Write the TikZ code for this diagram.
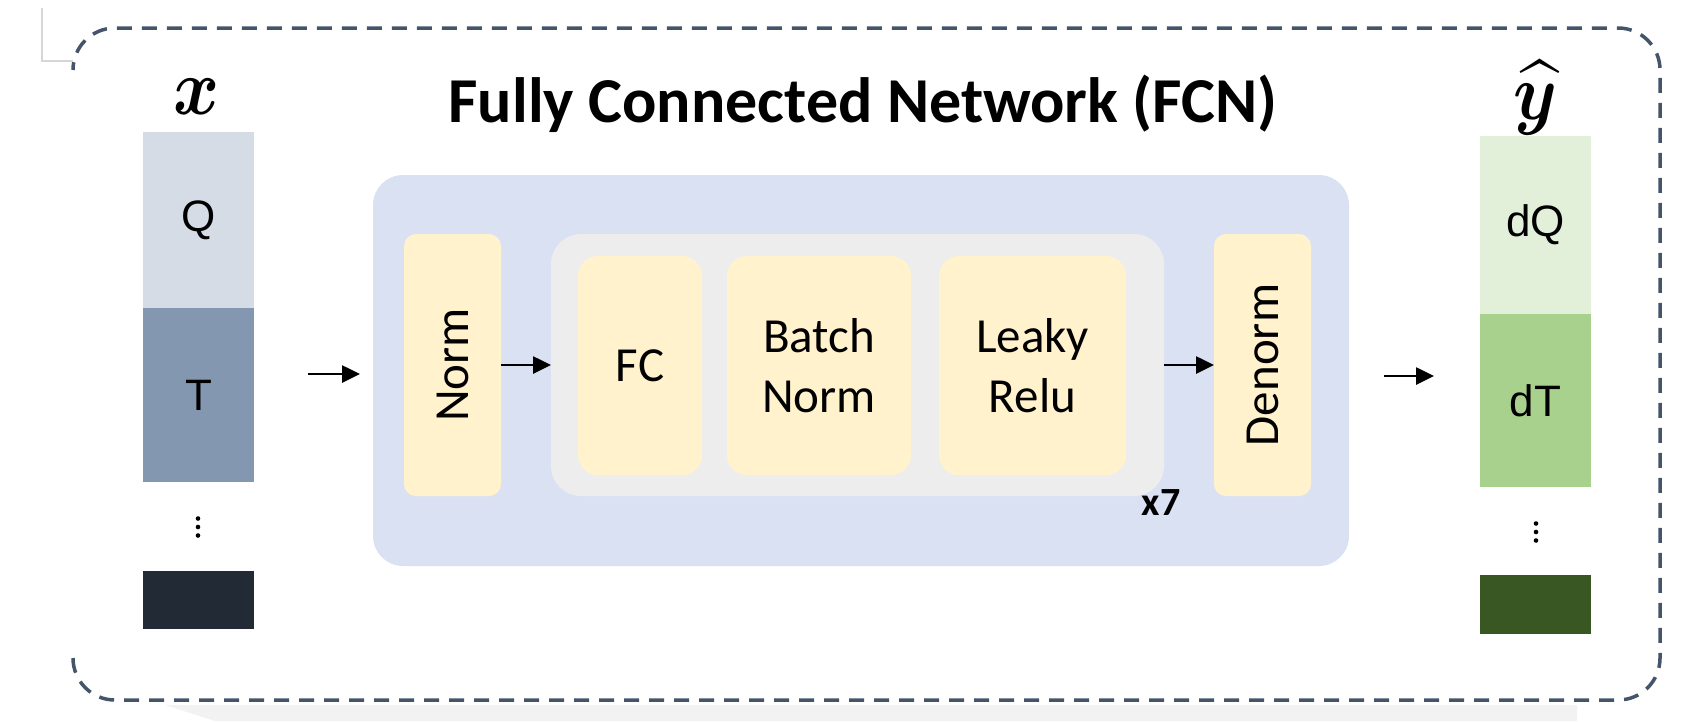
\documentclass[tikz,border=0pt]{standalone}
\usepackage{fontspec}
\setmainfont{Carlito}
\newfontfamily\arialfont{Liberation Sans}
\usepackage{amsmath,bm}
\usetikzlibrary{arrows.meta}

\definecolor{qcol}{HTML}{D6DCE5}
\definecolor{tcol}{HTML}{8497B0}
\definecolor{xdark}{HTML}{222A35}
\definecolor{dqcol}{HTML}{E2F0D9}
\definecolor{dtcol}{HTML}{A9D18E}
\definecolor{ydark}{HTML}{385723}
\definecolor{panelblue}{HTML}{DAE1F3}
\definecolor{repgrey}{HTML}{EDEDED}
\definecolor{layeryellow}{HTML}{FFF2CC}
\definecolor{framecol}{HTML}{44546A}
\definecolor{markgrey}{HTML}{D6D6D6}
\definecolor{shadegrey}{HTML}{F2F2F2}

\begin{document}
\begin{tikzpicture}[x=1pt,y=-1pt,
  block/.style={inner sep=0pt, outer sep=0pt, anchor=north west},
  cell/.style={block, minimum width=111pt, text=black,
    font=\arialfont\fontsize{44}{44}\selectfont},
  layer/.style={inner sep=0pt, outer sep=0pt, fill=layeryellow, text=black,
    align=center, font=\fontsize{49}{60}\selectfont},
  flow/.style={-{Triangle[length=18pt,width=17pt]}, line width=2.6pt, black},
  frame/.style={draw=framecol, line width=3.5pt, dash pattern=on 15pt off 10pt,
    rounded corners=42pt},
  mathlabel/.style={inner sep=0pt, xscale=7, yscale=8}
]
\useasboundingbox (0,0) rectangle (1685,721);

% page marks: faint corner mark and shadow strip
\draw[markgrey, line width=1.5pt] (42,8) -- (42,61) -- (73,61);
\fill[shadegrey] (165,705) -- (1577,705) -- (1577,721) -- (215,721) -- cycle;

% dashed outer frame (open on the left side)
\draw[frame] (73,658) -- (73,700) -- (1660,700) -- (1660,28) -- (73,28) -- (73,70);

% title
\node[font=\bfseries\fontsize{64}{64}\selectfont] (title) at (863,104)
  {Fully Connected Network (FCN)};

% input vector x
\node[mathlabel] (xlab) at (197,97) {$\bm{x}$};
\node[cell, fill=qcol, minimum height=176pt] (q) at (143,132) {Q};
\node[cell, fill=tcol, minimum height=174pt] (t) at (143,308) {T};
\foreach \d in {-8.5,0,8.5} \fill (198,527+\d) circle[radius=2.3pt];
\node[cell, fill=xdark, minimum height=58pt] (xlast) at (143,571) {};

% output vector y-hat
\node[mathlabel] (ylab) at (1535,98) {$\widehat{\bm{y}}$};
\node[cell, fill=dqcol, minimum height=178pt] (dq) at (1480,136) {dQ};
\node[cell, fill=dtcol, minimum height=173pt] (dt) at (1480,314) {dT};
\foreach \d in {-8.5,0,8.5} \fill (1536,532+\d) circle[radius=2.3pt];
\node[cell, fill=ydark, minimum height=59pt] (ylast) at (1480,575) {};

% network panel
\node[block, fill=panelblue, rounded corners=30pt,
  minimum width=976pt, minimum height=391pt] (panel) at (373,175) {};

% repeated block
\node[block, fill=repgrey, rounded corners=30pt,
  minimum width=613pt, minimum height=262pt] (rep) at (551,234) {};
\node[font=\bfseries\fontsize{40}{40}\selectfont] (times) at (1161,503) {x7};

% layers
\node[layer, rotate=90, rounded corners=12pt,
  minimum width=262pt, minimum height=97pt] (norm) at (452.5,365) {Norm};
\node[layer, rounded corners=20pt, minimum width=124pt, minimum height=219pt]
  (fc) at (640,365.5) {FC};
\node[layer, rounded corners=20pt, minimum width=184pt, minimum height=219pt]
  (bn) at (819,365.5) {Batch\\Norm};
\node[layer, rounded corners=20pt, minimum width=187pt, minimum height=219pt]
  (lr) at (1032.5,365.5) {Leaky\\Relu};
\node[layer, rotate=90, rounded corners=12pt,
  minimum width=262pt, minimum height=97pt] (denorm) at (1262.5,365) {Denorm};

% connectors
\coordinate (inA) at (308,374);
\coordinate (inB) at (360,374);
\coordinate (outA) at (1384,376);
\coordinate (outB) at (1434,376);
\draw[flow] (inA) -- (inB);
\draw[flow] (norm) -- (rep);
\draw[flow] (rep) -- (denorm);
\draw[flow] (outA) -- (outB);
\end{tikzpicture}
\end{document}
